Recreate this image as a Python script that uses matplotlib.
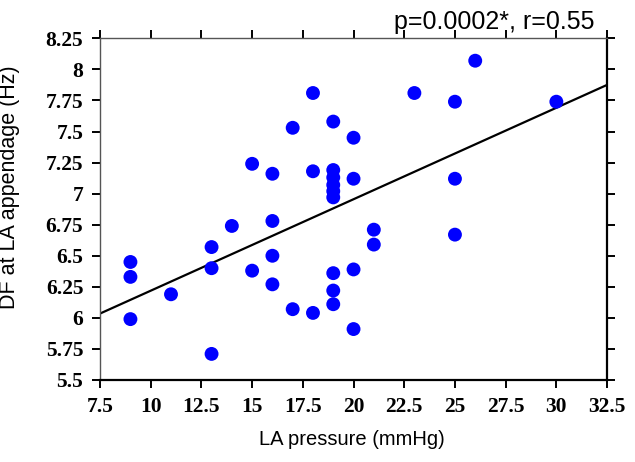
import matplotlib
matplotlib.use("Agg")
import matplotlib.pyplot as plt
import numpy as np

# LA pressure (mmHg) and dominant frequency at LA appendage (Hz)
la_pressure = [9, 9, 9, 11, 13, 13, 13, 14, 15, 15,
               16, 16, 16, 16, 17, 17, 18, 18, 18,
               19, 19, 19, 19, 19, 19, 19, 19, 19,
               20, 20, 20, 20, 21, 21, 23, 25, 25, 25, 26, 30]
df_hz = [6.45, 6.33, 5.99, 6.19, 6.57, 6.40, 5.71, 6.74, 7.24, 6.38,
         7.16, 6.78, 6.50, 6.27, 7.53, 6.07, 7.81, 7.18, 6.04,
         7.58, 7.19, 7.13, 7.07, 7.02, 6.97, 6.36, 6.22, 6.11,
         7.45, 7.12, 6.39, 5.91, 6.71, 6.59, 7.81, 7.74, 7.12, 6.67, 8.07, 7.74]

x_ticks = [7.5, 10, 12.5, 15, 17.5, 20, 22.5, 25, 27.5, 30, 32.5]
y_ticks = [5.5, 5.75, 6, 6.25, 6.5, 6.75, 7, 7.25, 7.5, 7.75, 8, 8.25]
x_tick_labels = ["7.5", "10", "12.5", "15", "17.5", "20", "22.5", "25", "27.5", "30", "32.5"]
y_tick_labels = ["5.5", "5.75", "6", "6.25", "6.5", "6.75", "7", "7.25", "7.5", "7.75", "8", "8.25"]

x = np.array(la_pressure, dtype=float)
y = np.array(df_hz)

# recta de regresion lineal
pendiente, ordenada = np.polyfit(x, y, 1)
x_linea = np.array([x_ticks[0], x_ticks[-1]])
y_linea = ordenada + pendiente * x_linea

fig = plt.figure(figsize=(6.35, 4.62), dpi=100)
ax = fig.add_axes([0.1575, 0.1775, 0.7985, 0.7395])

ax.plot(x_linea, y_linea, color="black", linewidth=1.6, zorder=2)
ax.scatter(x, y, s=100, color="#0000FF", edgecolors="none", zorder=3)

ax.set_xlim(x_ticks[0], x_ticks[-1])
ax.set_ylim(y_ticks[0], y_ticks[-1])
ax.set_xticks(x_ticks)
ax.set_yticks(y_ticks)
fuente_ticks = dict(family="Liberation Serif", fontweight="bold", fontsize=15.5)
ax.set_xticklabels(x_tick_labels, **fuente_ticks)
ax.set_yticklabels(y_tick_labels, **fuente_ticks)

ax.tick_params(direction="out", length=6, width=1.4, pad=6,
               top=True, right=True, labeltop=False, labelright=False)

ax.spines["left"].set_color("#555555")
ax.spines["top"].set_color("#555555")
ax.spines["left"].set_linewidth(1.0)
ax.spines["top"].set_linewidth(1.0)
ax.spines["right"].set_linewidth(1.6)
ax.spines["bottom"].set_linewidth(1.6)

ax.set_xlabel("LA pressure (mmHg)", fontsize=14.5, family="Liberation Sans")
ax.set_ylabel("DF at LA appendage (Hz)", fontsize=15.5, family="Liberation Sans")
ax.xaxis.set_label_coords(0.497, -0.145)
ax.yaxis.set_label_coords(-0.158, 0.565)

ax.text(0.975, 1.028, "p=0.0002*, r=0.55", transform=ax.transAxes, ha="right", va="baseline",
        fontsize=18, family="Liberation Sans")

fig.savefig("out.png", dpi=100)
